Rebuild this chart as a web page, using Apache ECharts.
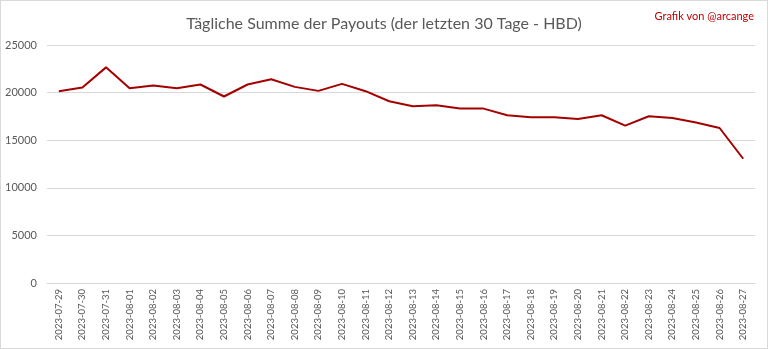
<!DOCTYPE html>
<html><head><meta charset="utf-8">
<script src="https://cdn.jsdelivr.net/npm/echarts@6/dist/echarts.min.js"></script>
<style>html,body{margin:0;padding:0;background:#fff}#c{width:766px;height:347px;border:1px solid #d9d9d9}</style>
</head><body><div id="c"></div>
<script>
const categories = ["2023-07-29","2023-07-30","2023-07-31","2023-08-01","2023-08-02","2023-08-03","2023-08-04","2023-08-05","2023-08-06","2023-08-07","2023-08-08","2023-08-09","2023-08-10","2023-08-11","2023-08-12","2023-08-13","2023-08-14","2023-08-15","2023-08-16","2023-08-17","2023-08-18","2023-08-19","2023-08-20","2023-08-21","2023-08-22","2023-08-23","2023-08-24","2023-08-25","2023-08-26","2023-08-27"];
const payouts = [20150,20530,22650,20460,20750,20460,20850,19590,20850,21410,20600,20180,20920,20150,19090,18570,18670,18320,18320,17620,17400,17400,17230,17620,16530,17510,17330,16850,16280,13050];
const titleText = "Tägliche Summe der Payouts (der letzten 30 Tage - HBD)";
const creditText = "Grafik von @arcange";
const chart = echarts.init(document.getElementById('c'), null, {renderer:'canvas'});
chart.setOption({
  animation:false,
  title:[
    {text:titleText,left:'center',top:10,textStyle:{fontFamily:'Lato',fontWeight:'normal',fontSize:16,color:'#595959'}},
    {text:creditText,right:8,top:5,textStyle:{fontFamily:'Lato',fontWeight:'normal',fontSize:11,color:'#c00000'}}
  ],
  grid:{left:46,right:12,top:44,bottom:65},
  xAxis:{type:'category',data:categories,boundaryGap:true,
    axisLine:{lineStyle:{color:'#d9d9d9'}},axisTick:{show:false},
    axisLabel:{rotate:90,interval:0,fontFamily:'Lato',fontSize:9.5,color:'#595959',margin:6}},
  yAxis:{type:'value',min:0,max:25000,interval:5000,
    axisLine:{show:false},axisTick:{show:false},
    splitLine:{lineStyle:{color:'#d9d9d9'}},
    axisLabel:{fontFamily:'Lato',fontSize:11,color:'#595959',margin:10,formatter:v=>String(v)}},
  series:[{type:'line',data:payouts,symbol:'none',lineStyle:{color:'#a50000',width:2}}]
});
</script></body></html>
